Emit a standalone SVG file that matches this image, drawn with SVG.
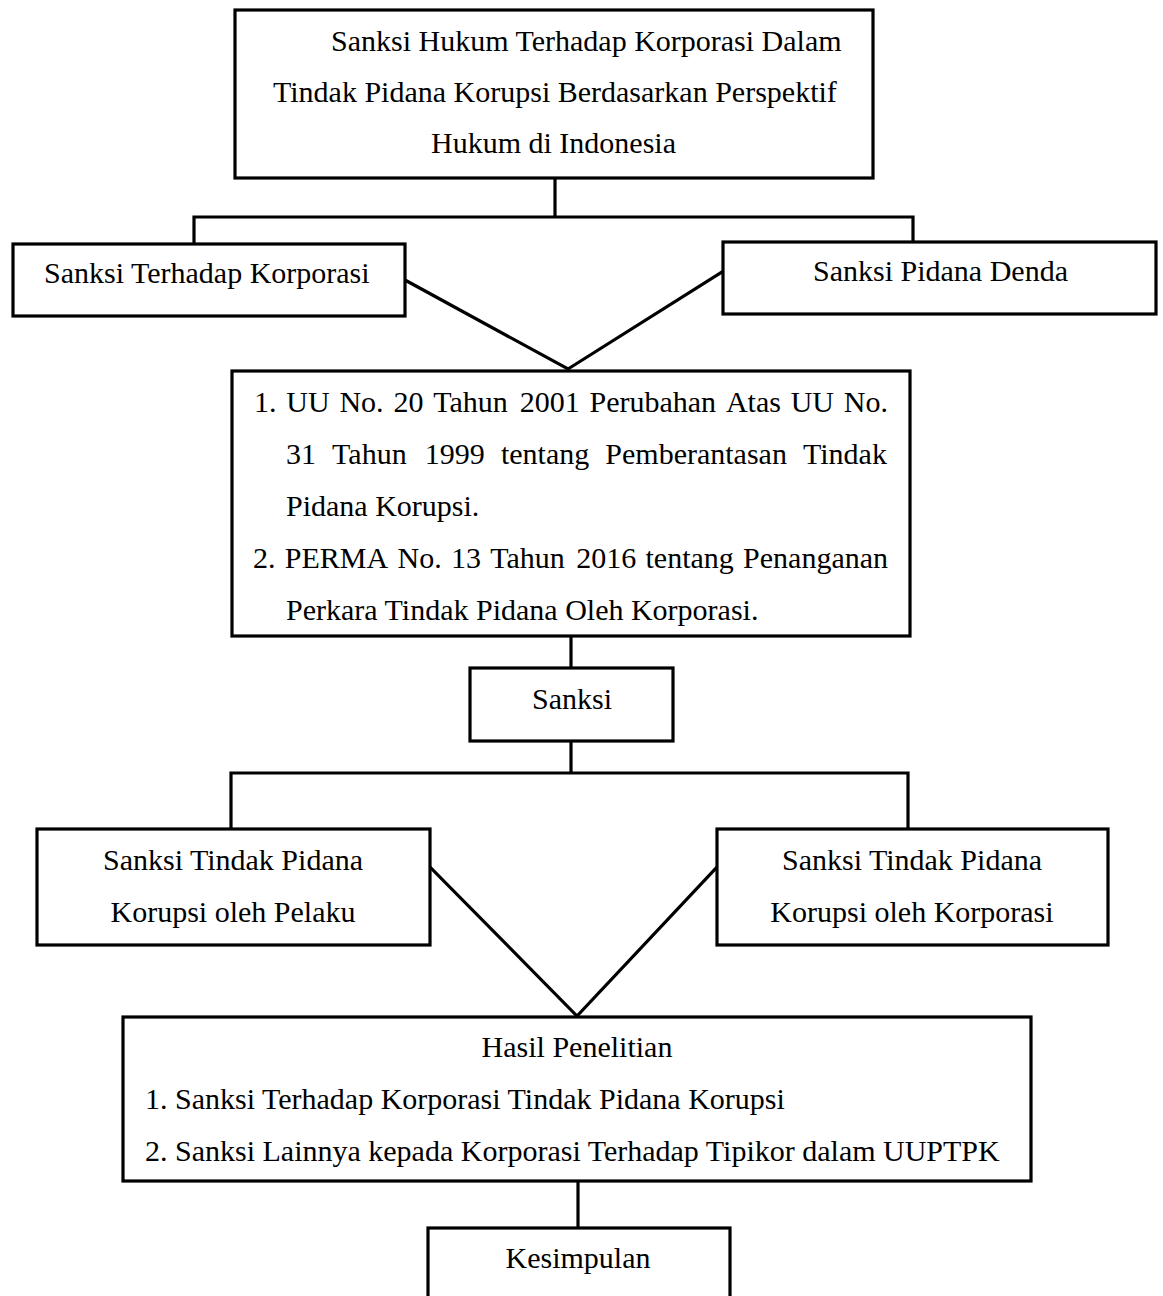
<svg xmlns="http://www.w3.org/2000/svg" width="1163" height="1296" viewBox="0 0 1163 1296">
<style>
  .box { fill: #ffffff; stroke: #000000; stroke-width: 3.2; }
  .ln { fill: none; stroke: #000000; stroke-width: 3.2; stroke-linecap: square; stroke-linejoin: miter; }
  text { font-family: "Liberation Serif", "Times New Roman", serif; font-size: 30px; fill: #000000; }
  .mid { text-anchor: middle; }
</style>
<rect x="0" y="0" width="1163" height="1296" fill="#ffffff"/>

<g id="connectors">
  <path class="ln" d="M555 179 V217 M194 244 V217 H913 V242"/>
  <path class="ln" d="M405 280 L568 369 L722 272"/>
  <path class="ln" d="M571 636 V668 M571 741 V773 M231 829 V773 H908 V829"/>
  <path class="ln" d="M430 867 L577 1016 L717 867"/>
  <path class="ln" d="M578 1181 V1228"/>
</g>

<g id="node-title">
  <rect class="box" x="235" y="10" width="638" height="168"/>
  <text x="331" y="51">Sanksi Hukum Terhadap Korporasi Dalam</text>
  <text x="273" y="102">Tindak Pidana Korupsi Berdasarkan Perspektif</text>
  <text x="431" y="153">Hukum di Indonesia</text>
</g>

<g id="node-sanksi-korporasi">
  <rect class="box" x="13" y="244" width="392" height="72"/>
  <text x="44" y="283">Sanksi Terhadap Korporasi</text>
</g>

<g id="node-pidana-denda">
  <rect class="box" x="723" y="242" width="433" height="72"/>
  <text x="813" y="281">Sanksi Pidana Denda</text>
</g>

<g id="node-dasar-hukum">
  <rect class="box" x="232" y="371" width="678" height="265"/>
  <text y="412"><tspan x="254">1.</tspan><tspan x="286.3">UU</tspan><tspan x="339.4">No.</tspan><tspan x="393.4">20</tspan><tspan x="433.2">Tahun</tspan><tspan x="519.7">2001</tspan><tspan x="589.5">Perubahan</tspan><tspan x="725.9">Atas</tspan><tspan x="790.7">UU</tspan><tspan x="843.8">No.</tspan></text>
  <text y="464"><tspan x="286">31</tspan><tspan x="332.1">Tahun</tspan><tspan x="424.8">1999</tspan><tspan x="500.9">tentang</tspan><tspan x="605.3">Pemberantasan</tspan><tspan x="803">Tindak</tspan></text>
  <text x="286" y="516">Pidana Korupsi.</text>
  <text y="568"><tspan x="253">2.</tspan><tspan x="284.8">PERMA</tspan><tspan x="397.5">No.</tspan><tspan x="451">13</tspan><tspan x="490.3">Tahun</tspan><tspan x="576.2">2016</tspan><tspan x="645.5">tentang</tspan><tspan x="743.1">Penanganan</tspan></text>
  <text x="286" y="620">Perkara Tindak Pidana Oleh Korporasi.</text>
</g>

<g id="node-sanksi">
  <rect class="box" x="470" y="668" width="203" height="73"/>
  <text x="532" y="709">Sanksi</text>
</g>

<g id="node-pelaku">
  <rect class="box" x="37" y="829" width="393" height="116"/>
  <text class="mid" x="233" y="870">Sanksi Tindak Pidana</text>
  <text class="mid" x="233" y="922">Korupsi oleh Pelaku</text>
</g>

<g id="node-korporasi">
  <rect class="box" x="717" y="829" width="391" height="116"/>
  <text class="mid" x="912" y="870">Sanksi Tindak Pidana</text>
  <text class="mid" x="912" y="922">Korupsi oleh Korporasi</text>
</g>

<g id="node-hasil">
  <rect class="box" x="123" y="1017" width="908" height="164"/>
  <text class="mid" x="577" y="1057">Hasil Penelitian</text>
  <text x="145" y="1109">1. Sanksi Terhadap Korporasi Tindak Pidana Korupsi</text>
  <text x="145" y="1161">2. Sanksi Lainnya kepada Korporasi Terhadap Tipikor dalam UUPTPK</text>
</g>

<g id="node-kesimpulan">
  <rect class="box" x="428" y="1228" width="302" height="90"/>
  <text class="mid" x="578" y="1268">Kesimpulan</text>
</g>
</svg>
